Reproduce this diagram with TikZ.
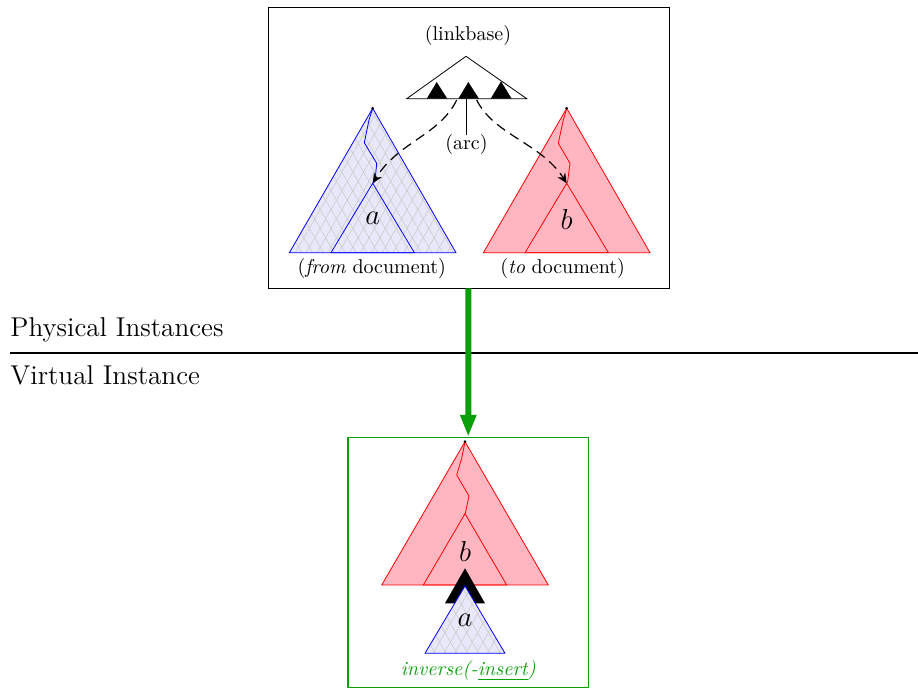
\documentclass[tikz,border=0pt]{standalone}
\usepackage{amsmath,amssymb}
\usepackage{tikz}
\usetikzlibrary{arrows.meta,patterns.meta}

\definecolor{fromfill}{RGB}{232,232,250}
\definecolor{tofill}{RGB}{255,182,193}
\definecolor{virtgreen}{RGB}{10,160,10}

\begin{document}
\begin{tikzpicture}[
                        x=0.5pt,
                        y=-0.5pt,
                        >={Stealth[length=5pt,width=4.5pt]},
                        thin
                    ]
                    \tikzset{
                        hatch/.style={pattern={Lines[angle=#1,distance=4.7pt,line width=0.3pt]},pattern color=black!20},
                        fromtree/.style={draw=blue,preaction={fill=fromfill},preaction={hatch=60},hatch=-60},
                        totree/.style={draw=red,fill=tofill},
                        treelabel/.style={font=\Large},
                        linkarrow/.style={->,semithick,dash pattern=on 5pt off 3pt},
                        levellabel/.style={font=\fontsize{13.6}{16}\selectfont,anchor=base west,inner sep=0pt}
                    }
                    \useasboundingbox (0,0) rectangle (918,689);

                    % boxes
                    \node[draw,minimum width=200.5pt,minimum height=140.5pt,inner sep=0pt] (physbox) at (468.5,147.5) {};
                    \node[draw=virtgreen,semithick,minimum width=120.25pt,minimum height=125pt,inner sep=0pt] (virtbox) at (468.25,562.5) {};

                    % linkbase
                    \node (linkbase) at (468,35.5) {(linkbase)};
                    \draw (466,56.3) -- (526.7,98.7) -- (406.7,98.7) -- cycle;
                    \fill (436.7,82) -- (447.3,98.7) -- (426.7,98.7) -- cycle;
                    \fill (468.3,82) -- (479,98.7) -- (458.3,98.7) -- cycle;
                    \fill (501,81.3) -- (511.7,98.7) -- (490.7,98.7) -- cycle;
                    \coordinate (arcbase) at (466.5,98.7);
                    \node[inner sep=0pt] (arc) at (466.5,145) {(arc)};
                    \draw (arcbase) -- (arc.north);

                    % from document
                    \begin{scope}[shift={(372.7,108.3)}]
                        \path[fromtree] (0,0) -- (-83.3,144.4) -- (83.3,144.4) -- cycle;
                        \draw[blue] (0,75) -- (-41.7,144.4) -- (41.7,144.4) -- cycle;
                        \draw[blue] (0,0) -- (-3.7,11.7) -- (-8.4,34.4) -- (4,55) -- (2.3,73) -- (0,75);
                        \fill (0,0) circle (1.5);
                        \coordinate (from) at (0,75);
                        \node[treelabel] (a) at (0,110) {$a$};
                    \end{scope}
                    \node (fromdoc) at (371.7,269) {(\emph{from} document)};

                    % to document
                    \begin{scope}[shift={(566.7,108.3)}]
                        \path[totree] (0,0) -- (-83.3,144.4) -- (83.3,144.4) -- cycle;
                        \draw[red] (0,75) -- (-41.7,144.4) -- (41.7,144.4) -- cycle;
                        \draw[red] (0,0) -- (-3.4,11.7) -- (-8.4,35) -- (3.3,55) -- (1,73) -- (0,75);
                        \fill (0,0) circle (1.5);
                        \coordinate (to) at (0,75);
                        \node[treelabel] (b) at (0,111) {$b$};
                    \end{scope}
                    \node (todoc) at (562.7,269) {(\emph{to} document)};

                    \coordinate (arcleft) at (456.7,100);
                    \coordinate (arcright) at (476.7,100);
                    \draw[linkarrow] (arcleft) .. controls (440,135) and (398,142) .. (from);
                    \draw[linkarrow] (arcright) .. controls (494,135) and (541,143) .. (to);

                    % levels
                    \coordinate (levelleft) at (10,353);
                    \coordinate (levelright) at (918,353);
                    \draw[thick] (levelleft) -- (levelright);
                    \node[levellabel] (physical) at (10,337) {Physical Instances};
                    \node[levellabel] (virtual) at (10,385) {Virtual Instance};

                    \draw[virtgreen,line width=3pt,-{Triangle[length=11pt,width=7.5pt]}] (physbox.south) -- (virtbox.north);

                    % virtual instance
                    \begin{scope}[shift={(465,441.7)}]
                        \path[totree] (0,0) -- (-83.3,143.3) -- (83.3,143.3) -- cycle;
                        \draw[red] (0,72) -- (-41.7,143.3) -- (41.7,143.3) -- cycle;
                        \draw[red] (0,0) -- (-3.3,16.6) -- (-8.3,33.3) -- (4,54.3) -- (0.7,70) -- (0,72);
                        \fill (0,0) circle (1.5);
                        \node[treelabel] (vb) at (0,110) {$b$};
                    \end{scope}
                    \fill (465,568.3) -- (485,603.3) -- (445,603.3) -- cycle;
                    \begin{scope}[shift={(465,586)}]
                        \path[fromtree] (0,0) -- (-40,67.3) -- (40,67.3) -- cycle;
                        \node[treelabel] (va) at (0,34) {$a$};
                    \end{scope}
                    \node[text=virtgreen] (inverse) at (468.3,671) {\textit{inverse(-\underline{insert})}};

                \end{tikzpicture}
\end{document}
